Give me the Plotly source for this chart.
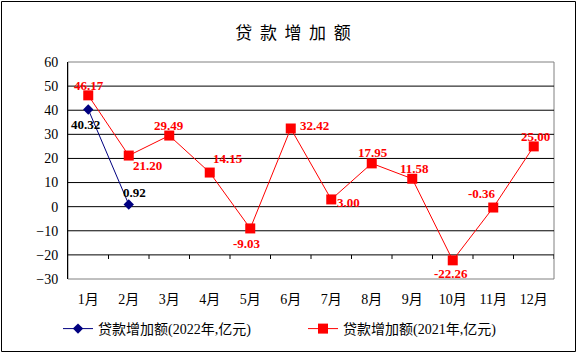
import plotly.graph_objects as go

months = ["1月", "2月", "3月", "4月", "5月", "6月", "7月", "8月", "9月", "10月", "11月", "12月"]
vals_2022 = [40.32, 0.92]
vals_2021 = [46.17, 21.20, 29.49, 14.15, -9.03, 32.42, 3.00, 17.95, 11.58, -22.26, -0.36, 25.00]
name_2022 = "贷款增加额(2022年,亿元)"
name_2021 = "贷款增加额(2021年,亿元)"
y_ticks = [60, 50, 40, 30, 20, 10, 0, -10, -20, -30]

# label pixel offsets (dx, dy up)
off_2021 = [(1, 10), (19, -10), (0, 10), (18, 14), (-3, -15), (24, 3),
            (17, -3), (1, 11), (2, 10), (-2, -13), (-11, 14), (2, 10)]
off_2022 = [(-3, -15), (6, 12)]

FONT = "Liberation Serif, Noto Sans CJK SC, serif"

fig = go.Figure()
fig.add_trace(go.Scatter(
    x=months[:len(vals_2022)], y=vals_2022, name=name_2022, mode="lines+markers",
    line=dict(color="#000080", width=1),
    marker=dict(symbol="diamond", size=8, color="#000080"),
))
fig.add_trace(go.Scatter(
    x=months, y=vals_2021, name=name_2021, mode="lines+markers",
    line=dict(color="#ff0000", width=1),
    marker=dict(symbol="square", size=10, color="#ff0000"),
))

annotations = []
for xs, vs, offs, col in [(months, vals_2021, off_2021, "#ff0000"), (months, vals_2022, off_2022, "black")]:
    for xv, v, (dx, dy) in zip(xs, vs, offs):
        annotations.append(dict(x=xv, y=v, xref="x", yref="y", text=f"<b>{v:.2f}</b>", showarrow=False,
                                xshift=dx, yshift=dy, xanchor="center", yanchor="middle",
                                font=dict(family=FONT, size=13, color=col)))

shapes = []
W, H = 578, 354
l, r, t, b = 68, 24, 62, 75
pw, ph = W - l - r, H - t - b
shapes.append(dict(type="rect", xref="paper", yref="paper", x0=0, x1=1, y0=0, y1=1,
                   line=dict(color="#808080", width=1), layer="below"))
shapes.append(dict(type="rect", xref="paper", yref="paper",
                   x0=(1.5 - l) / pw, x1=(575.5 - l) / pw,
                   y0=(H - b - 351.5) / ph, y1=(H - b - 1.5) / ph,
                   line=dict(color="black", width=1)))
for k in range(1, 13):
    shapes.append(dict(type="line", xref="x", yref="y", x0=k - 0.5, x1=k - 0.5, y0=-20, y1=-21.7,
                       line=dict(color="black", width=1)))
for gv in [50, 40, 30, 20, 10, 0, -10, -20]:
    shapes.append(dict(type="line", xref="paper", yref="y", x0=0, x1=1, y0=gv, y1=gv,
                       line=dict(color="black", width=1), layer="below"))

fig.update_layout(
    width=W, height=H, margin=dict(l=l, r=r, t=t, b=b, autoexpand=False),
    paper_bgcolor="white", plot_bgcolor="white",
    font=dict(family=FONT, size=14, color="black"),
    title=dict(text="贷  款  增  加  额", x=293 / W, xanchor="center", y=1 - 33 / H, yanchor="middle",
               font=dict(family="Noto Sans CJK SC", size=17, color="black")),
    xaxis=dict(type="category", categoryorder="array", categoryarray=months, range=[-0.5, 11.5],
               showgrid=False, showline=False, ticks="", zeroline=False,
               tickfont=dict(family=FONT, size=14), ticklabelstandoff=10),
    yaxis=dict(range=[-30, 60], tickvals=y_ticks, showgrid=False, zeroline=False,
               showline=True, linecolor="black", linewidth=1, ticks="",
               tickfont=dict(family=FONT, size=14), ticklabelstandoff=6),
    showlegend=True,
    legend=dict(orientation="h", x=(58 - l) / pw, xanchor="left", y=(H - b - 329) / ph, yanchor="middle",
                entrywidth=200, entrywidthmode="pixels", font=dict(family=FONT, size=14),
                bgcolor="rgba(0,0,0,0)", itemwidth=30, traceorder="normal"),
    shapes=shapes,
    annotations=annotations,
)

fig.write_html("out.html")
